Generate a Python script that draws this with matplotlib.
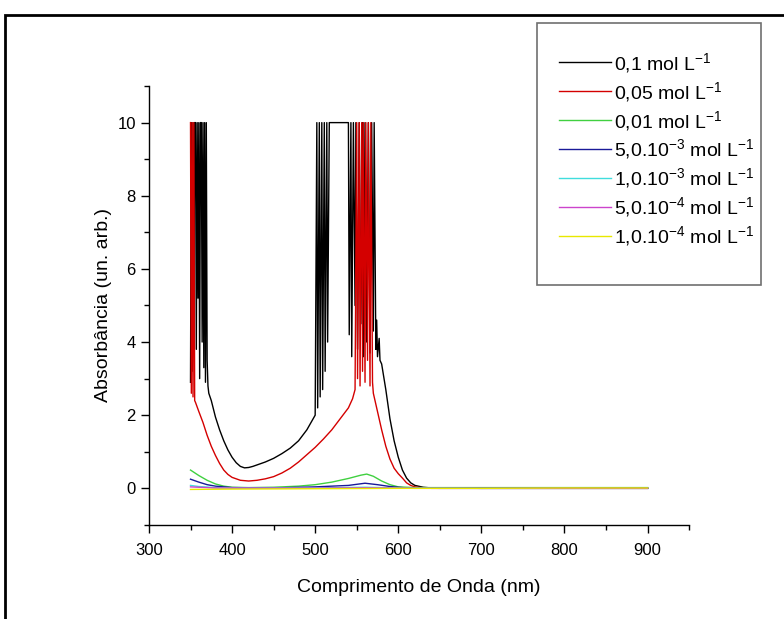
import numpy as np
import matplotlib.pyplot as plt
from matplotlib.patches import Rectangle
from matplotlib.ticker import MultipleLocator

plt.rcParams['font.family'] = ['Liberation Sans', 'DejaVu Sans']
plt.rcParams['mathtext.fontset'] = 'custom'
plt.rcParams['mathtext.rm'] = 'Liberation Sans'
plt.rcParams['mathtext.it'] = 'Liberation Sans'

# 0,1 mol/L  (saturated spikes at 10)
wl_01 = [350, 351, 352, 353, 354, 355, 356, 357, 358, 359, 360, 361, 362, 363,
         364, 365, 366, 367, 368, 369, 370, 371, 372, 375, 380, 385, 390, 395,
         400, 405, 410, 415, 420, 425, 430, 440, 450, 460, 470, 480, 490, 495,
         500, 502, 503, 505, 506, 508, 509, 511, 512, 514, 515, 517, 540, 541,
         543, 544, 546, 548, 549, 551, 553, 555, 557, 558, 560, 562, 564, 566,
         568, 570, 571, 573, 574, 575, 577, 578, 580, 585, 590, 595, 600, 605,
         610, 615, 620, 630, 640, 700, 800, 900]
ab_01 = [2.9, 10, 3.2, 10, 4.5, 10, 10, 3.8, 10, 5.2, 10, 3.0, 10, 10,
         4.0, 10, 3.3, 10, 2.9, 10, 3.5, 2.8, 2.6, 2.4, 1.95, 1.6, 1.3, 1.05,
         0.85, 0.7, 0.6, 0.56, 0.57, 0.6, 0.64, 0.72, 0.82, 0.95, 1.1, 1.3, 1.6, 1.8,
         2.0, 10, 2.2, 10, 2.5, 10, 2.7, 10, 3.2, 10, 4.0, 10, 10, 4.2,
         10, 3.6, 10, 5.0, 10, 3.8, 10, 4.5, 10, 3.6, 10, 4.0, 10, 3.7,
         10, 4.3, 10, 3.8, 4.6, 3.6, 4.1, 3.5, 3.4, 2.7, 1.9, 1.3, 0.85, 0.5,
         0.28, 0.15, 0.08, 0.03, 0.01, 0.0, 0.0, 0.0]

# 0,05 mol/L
wl_005 = [350, 351, 352, 353, 354, 355, 356, 360, 365, 370, 375, 380, 385, 390,
          395, 400, 410, 420, 430, 440, 450, 460, 470, 480, 490, 500, 510, 520,
          530, 540, 545, 548, 550, 551, 553, 554, 556, 557, 558, 560, 561, 563,
          564, 566, 567, 569, 570, 572, 575, 580, 585, 590, 595, 600, 605, 610,
          615, 620, 630, 640, 700, 800, 900]
ab_005 = [10, 2.6, 10, 2.5, 10, 2.4, 2.35, 2.1, 1.8, 1.45, 1.15, 0.9, 0.68, 0.5,
          0.38, 0.3, 0.22, 0.2, 0.22, 0.26, 0.32, 0.42, 0.55, 0.72, 0.92, 1.12, 1.35, 1.6,
          1.9, 2.2, 2.45, 2.7, 10, 3.0, 10, 2.8, 10, 3.2, 10, 2.9, 10, 3.5,
          10, 2.8, 10, 2.9, 2.6, 2.4, 2.1, 1.6, 1.15, 0.8, 0.55, 0.4, 0.28, 0.15,
          0.08, 0.04, 0.01, 0.0, 0.0, 0.0, 0.0]

# 0,01 mol/L
wl_001 = [350, 360, 370, 380, 390, 400, 420, 450, 480, 500, 520, 540, 555, 562,
          570, 580, 590, 600, 620, 700, 800, 900]
ab_001 = [0.5, 0.35, 0.22, 0.12, 0.06, 0.03, 0.02, 0.03, 0.06, 0.1, 0.17, 0.27, 0.36, 0.39,
          0.33, 0.2, 0.1, 0.04, 0.02, 0.02, 0.02, 0.02]

# 5,0e-3 mol/L
wl_5e3 = [350, 360, 370, 380, 400, 450, 500, 540, 560, 575, 590, 610, 650, 900]
ab_5e3 = [0.25, 0.17, 0.1, 0.06, 0.02, 0.01, 0.04, 0.08, 0.14, 0.1, 0.05, 0.01, 0.0, 0.0]

# 1,0e-3 mol/L
wl_1e3 = [350, 360, 380, 400, 500, 560, 600, 700, 900]
ab_1e3 = [0.08, 0.05, 0.02, 0.01, 0.01, 0.03, 0.01, 0.0, 0.0]

# 5,0e-4 mol/L
wl_5e4 = [350, 380, 500, 560, 620, 900]
ab_5e4 = [0.04, 0.01, 0.005, 0.015, 0.0, 0.0]

# 1,0e-4 mol/L
wl_1e4 = [350, 400, 500, 600, 700, 800, 900]
ab_1e4 = [-0.03, -0.02, -0.01, 0.0, 0.0, 0.01, 0.01]

series = [(wl_01, ab_01), (wl_005, ab_005), (wl_001, ab_001), (wl_5e3, ab_5e3),
          (wl_1e3, ab_1e3), (wl_5e4, ab_5e4), (wl_1e4, ab_1e4)]
labels = [r'0,1 mol L$^{\mathregular{-1}}$',
          r'0,05 mol L$^{\mathregular{-1}}$',
          r'0,01 mol L$^{\mathregular{-1}}$',
          r'5,0.10$^{\mathregular{-3}}$ mol L$^{\mathregular{-1}}$',
          r'1,0.10$^{\mathregular{-3}}$ mol L$^{\mathregular{-1}}$',
          r'5,0.10$^{\mathregular{-4}}$ mol L$^{\mathregular{-1}}$',
          r'1,0.10$^{\mathregular{-4}}$ mol L$^{\mathregular{-1}}$']
colors = ['black', '#d40000', '#40d040', '#1a1a99', '#40dddd', '#cc44cc', '#e8e800']

fig = plt.figure(figsize=(7.84, 6.19), dpi=100)
ax = fig.add_axes([0.190, 0.152, 0.689, 0.709])

for (wl, ab), lab, col in zip(series, labels, colors):
    ax.plot(wl, ab, color=col, lw=1.0, label=lab)

ax.set_xlim(300, 950)
ax.set_ylim(-1, 11)
ax.xaxis.set_major_locator(MultipleLocator(100))
ax.xaxis.set_minor_locator(MultipleLocator(50))
ax.yaxis.set_major_locator(MultipleLocator(2))
ax.yaxis.set_minor_locator(MultipleLocator(1))
ax.set_xticks([300, 400, 500, 600, 700, 800, 900])
ax.set_yticks([0, 2, 4, 6, 8, 10])
ax.tick_params(which='major', direction='out', length=6, width=1, labelsize=12)
ax.tick_params(axis='x', which='major', pad=7)
ax.tick_params(which='minor', direction='out', length=3.5, width=1)
for s in ['top', 'right']:
    ax.spines[s].set_visible(False)
for s in ['left', 'bottom']:
    ax.spines[s].set_linewidth(1)

ax.set_xlabel('Comprimento de Onda (nm)', fontsize=14, labelpad=15)
ax.set_ylabel('Absorbância (un. arb.)', fontsize=14, labelpad=4)

# legend box and entries
fig.patches.append(Rectangle((537 / 784, 1 - 285 / 619), 224 / 784, 262 / 619,
                             transform=fig.transFigure, fill=False,
                             edgecolor='#707070', lw=1.2))
fig.legend(loc='upper left', bbox_to_anchor=(549 / 784, 1 - 41 / 619),
           frameon=False, fontsize=14, handlelength=2.7, handletextpad=0.15,
           labelspacing=0.26, borderpad=0)

# outer frame
fig.patches.append(Rectangle((5 / 784, -0.1), 1.1, 1 - 15 / 619 + 0.1,
                             transform=fig.transFigure, fill=False,
                             edgecolor='black', lw=2))

fig.savefig('out.png', dpi=100)
